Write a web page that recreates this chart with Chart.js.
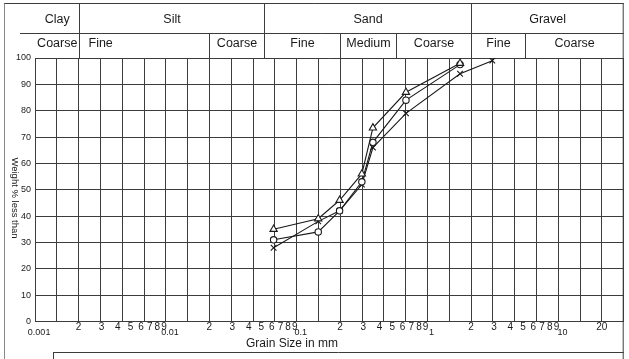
<!DOCTYPE html>
<html>
<head>
<meta charset="utf-8">
<script src="https://cdn.jsdelivr.net/npm/chart.js@4.4.1/dist/chart.umd.min.js"></script>
<style>
  html, body { margin: 0; padding: 0; background: #fff; }
  #wrap { position: relative; width: 629px; height: 359px; }
  canvas { display: block; }
</style>
</head>
<body>
<div id="wrap"><canvas id="chart" width="629" height="359"></canvas></div>
<script>
// Grain sizes (mm) of the readings
const sizesTriangle = [0.062, 0.136, 0.198, 0.293, 0.356, 0.637, 1.65];
const sizesCircle = [0.062, 0.136, 0.198, 0.293, 0.356, 0.637, 1.65];
const sizesCross = [0.062, 0.136, 0.198, 0.293, 0.356, 0.637, 1.65, 2.91];

// Weight % less than
const passTriangle = [35, 39, 46, 56, 73.5, 87, 98];
const passCircle = [31, 34, 42, 53, 68, 84, 97.5];
const passCross = [28, 38, 42, 52, 66, 79, 94, 99];

// x axis labels (value in mm, text)
const xTickValues = [
  0.001, 0.002, 0.003, 0.004, 0.005, 0.006, 0.007, 0.008, 0.009,
  0.01, 0.02, 0.03, 0.04, 0.05, 0.06, 0.07, 0.08, 0.09,
  0.1, 0.2, 0.3, 0.4, 0.5, 0.6, 0.7, 0.8, 0.9,
  1, 2, 3, 4, 5, 6, 7, 8, 9,
  10, 20
];
const xTickText = [
  '0.001', '2', '3', '4', '5', '6', '7', '8', '9',
  '0.01', '2', '3', '4', '5', '6', '7', '8', '9',
  '0.1', '2', '3', '4', '5', '6', '7', '8', '9',
  '1', '2', '3', '4', '5', '6', '7', '8', '9',
  '10', '20'
];
const decadeLabels = ['0.001', '0.01', '0.1', '1', '10'];

// y axis labels
const yTicks = [0, 10, 20, 30, 40, 50, 60, 70, 80, 90, 100];

// Soil classes across the top (limits in mm)
const soilClasses = ['Clay', 'Silt', 'Sand', 'Gravel'];
const classLimits = [0.002, 0.052, 2];
const subClasses = ['Coarse', 'Fine', 'Coarse', 'Fine', 'Medium', 'Coarse', 'Fine', 'Coarse'];
const subLimits = [0.002, 0.02, 0.052, 0.2, 0.53, 2, 5.2];

const X_MIN = 0.00093;
const X_MAX = X_MIN * Math.pow(10, 4.5);
const FONT = '"Liberation Sans", Arial, sans-serif';
const LINE = '#3c3c3c';

function toPoints(xs, ys) {
  return xs.map((x, i) => ({ x: x, y: ys[i] }));
}

// Header table, frame and titles drawn around the plot
const framePlugin = {
  id: 'frame',
  afterDraw(chart) {
    const ctx = chart.ctx;
    const area = chart.chartArea;
    const xs = chart.scales.x;
    const right = area.right;
    ctx.save();
    ctx.strokeStyle = LINE;
    ctx.lineWidth = 1;

    function line(x1, y1, x2, y2) {
      ctx.beginPath();
      ctx.moveTo(x1, y1);
      ctx.lineTo(x2, y2);
      ctx.stroke();
    }
    const px = v => Math.round(xs.getPixelForValue(v)) + 0.5;

    // outer frame
    ctx.strokeStyle = '#888';
    line(4.5, 3, 4.5, 359);
    ctx.strokeStyle = LINE;
    line(4.5, 3.5, right, 3.5);
    line(right - 0.5, 3, right - 0.5, 359);
    line(20, 33.5, right, 33.5);

    // class dividers
    classLimits.forEach(v => line(px(v), 3, px(v), area.top));
    subLimits.forEach(v => {
      if (!classLimits.includes(v)) line(px(v), 33, px(v), area.top);
    });

    // bottom box
    line(53.5, 352.5, right, 352.5);
    line(53.5, 352, 53.5, 359);

    ctx.fillStyle = '#1a1a1a';
    ctx.textAlign = 'center';
    ctx.textBaseline = 'middle';
    ctx.font = '12.5px ' + FONT;

    const mainEdges = [area.left].concat(classLimits.map(px), [right]);
    soilClasses.forEach((t, i) => {
      ctx.fillText(t, (mainEdges[i] + mainEdges[i + 1]) / 2, 20);
    });
    const subEdges = [area.left].concat(subLimits.map(px), [right]);
    subClasses.forEach((t, i) => {
      if (i === 1) {
        ctx.textAlign = 'left';
        ctx.fillText(t, subEdges[i] + 9, 44);
        ctx.textAlign = 'center';
      } else {
        ctx.fillText(t, (subEdges[i] + subEdges[i + 1]) / 2, 44);
      }
    });

    // axis titles
    ctx.font = '12px ' + FONT;
    ctx.fillText('Grain Size in mm', 292, 344);
    ctx.font = '9.5px ' + FONT;
    ctx.translate(15, 198);
    ctx.rotate(Math.PI / 2);
    ctx.fillText('Weight % less than', 0, 0);
    ctx.restore();
  }
};

const dsStyle = {
  borderColor: '#1a1a1a',
  borderWidth: 1.1,
  pointBorderColor: '#1a1a1a',
  pointBackgroundColor: '#fff',
  pointBorderWidth: 1.1,
  tension: 0,
  fill: false
};

new Chart(document.getElementById('chart'), {
  type: 'line',
  data: {
    datasets: [
      Object.assign({ label: 'Triangle', data: toPoints(sizesTriangle, passTriangle), pointStyle: 'triangle', pointRadius: 4.2 }, dsStyle),
      Object.assign({ label: 'Circle', data: toPoints(sizesCircle, passCircle), pointStyle: 'circle', pointRadius: 3.2 }, dsStyle),
      Object.assign({ label: 'Cross', data: toPoints(sizesCross, passCross), pointStyle: 'crossRot', pointRadius: 4 }, dsStyle)
    ]
  },
  options: {
    responsive: false,
    animation: false,
    devicePixelRatio: 1,
    layout: { padding: { top: 58, right: 3, bottom: 17.5, left: 0 } },
    plugins: {
      legend: { display: false },
      tooltip: { enabled: false }
    },
    scales: {
      x: {
        type: 'logarithmic',
        position: 'bottom',
        weight: 0,
        min: X_MIN,
        max: X_MAX,
        afterBuildTicks(scale) {
          const t = [];
          for (let k = 0; k <= 27; k++) t.push({ value: X_MIN * Math.pow(10, k / 6) });
          scale.ticks = t;
        },
        afterFit(scale) { scale.height = 0; },
        ticks: { display: false },
        grid: { color: LINE, drawTicks: false },
        border: { color: LINE }
      },
      x2: {
        type: 'logarithmic',
        position: 'bottom',
        weight: 1,
        min: X_MIN,
        max: X_MAX,
        afterBuildTicks(scale) {
          scale.ticks = xTickValues.map(v => ({ value: v }));
        },
        afterFit(scale) { scale.height = 20; },
        grid: { display: false, drawTicks: false },
        border: { display: false },
        ticks: {
          autoSkip: false,
          maxRotation: 0,
          padding: 0,
          color: '#1a1a1a',
          font: ctx => {
            const txt = xTickText[ctx.index];
            return decadeLabels.includes(txt)
              ? { family: FONT, size: 9, lineHeight: 0.85 }
              : { family: FONT, size: 10, lineHeight: 1.1 };
          },
          callback: (v, i) => {
            const txt = xTickText[i];
            return decadeLabels.includes(txt) ? ['', txt] : txt;
          }
        }
      },
      y: {
        min: 0,
        max: 100,
        afterBuildTicks(scale) {
          scale.ticks = yTicks.map(v => ({ value: v }));
        },
        afterFit(scale) { scale.width = 35; },
        grid: { color: LINE, drawTicks: false },
        border: { color: LINE },
        ticks: {
          padding: 4,
          color: '#1a1a1a',
          font: { family: FONT, size: 9 }
        }
      }
    }
  },
  plugins: [framePlugin]
});
</script>
</body>
</html>
